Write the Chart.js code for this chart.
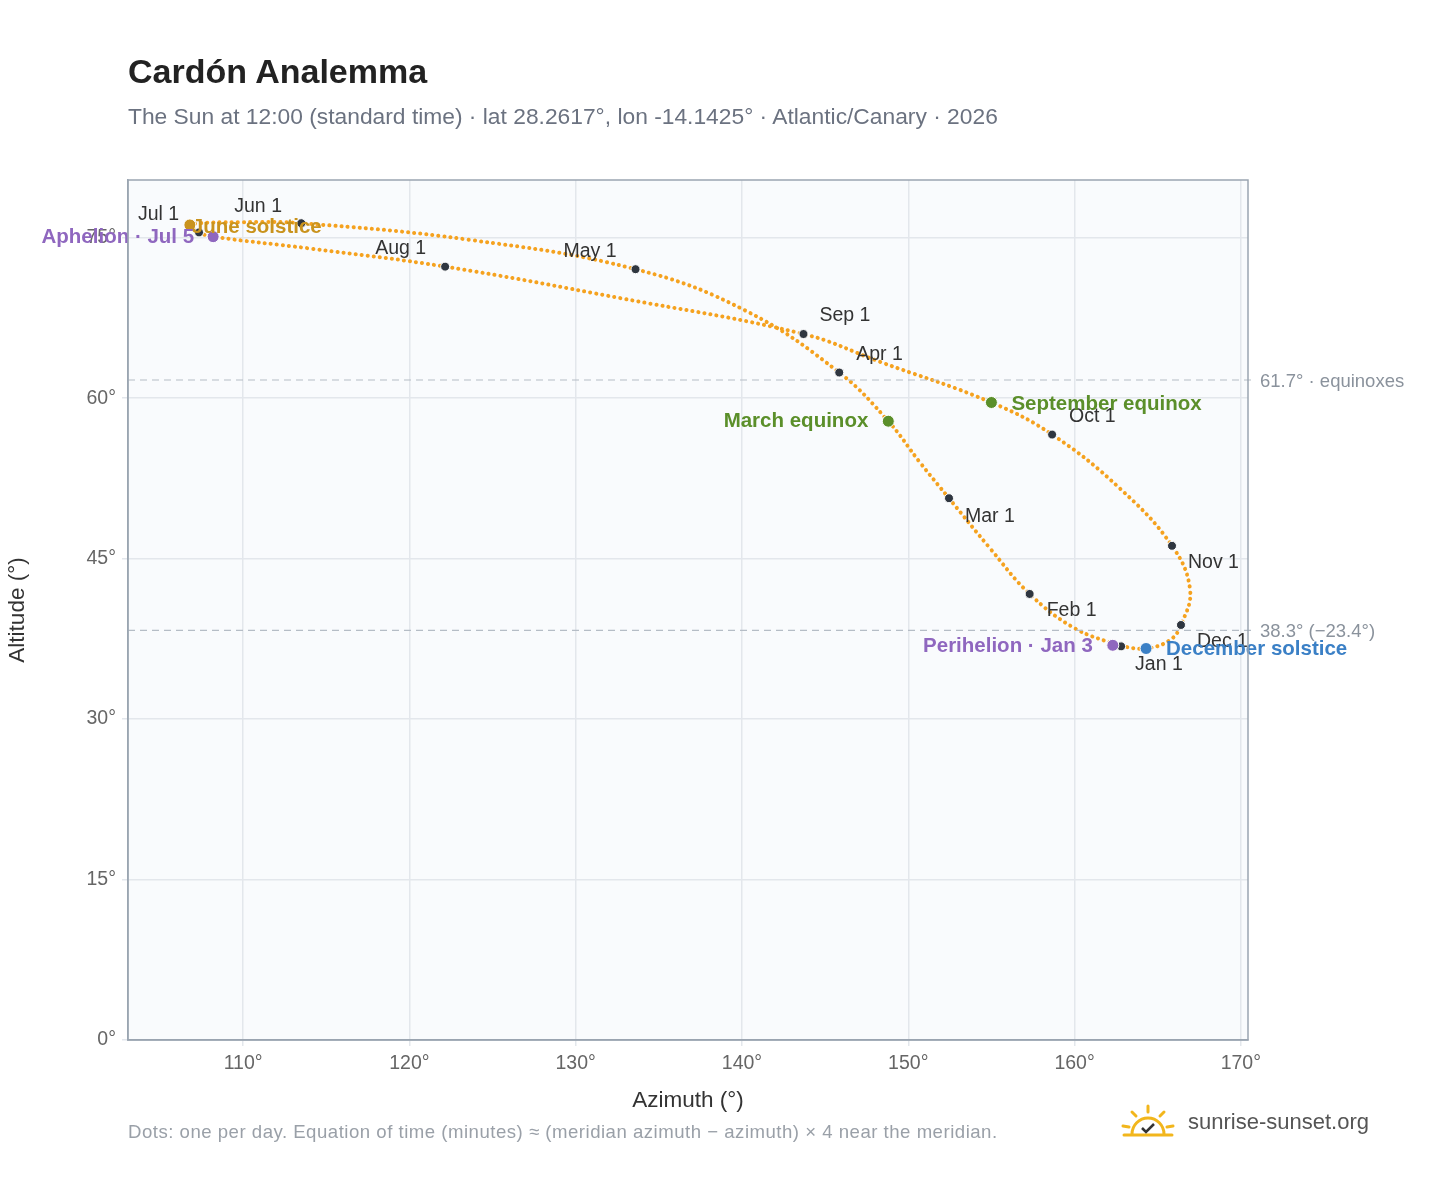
<!DOCTYPE html>
<html>
<head>
<meta charset="utf-8">
<script src="https://cdn.jsdelivr.net/npm/chart.js@4.4.1/dist/chart.umd.min.js"></script>
<style>
  body { margin: 0; background: #fff; font-family: "Liberation Sans", Arial, sans-serif; }
  #wrap { position: relative; width: 1448px; height: 1188px; }
  canvas { position: absolute; left: 0; top: 0; }
  .title { position: absolute; left: 128px; top: 52px; font-size: 34px; font-weight: bold; color: #222; }
  .sub { position: absolute; left: 128px; top: 103px; font-size: 22.8px; color: #6b7280; }
  .foot { position: absolute; left: 128px; top: 1121px; font-size: 18.6px; color: #9aa0a8; letter-spacing: 0.5px; white-space: nowrap; }
  .logo { position: absolute; left: 1120px; top: 1104px; font-size: 22px; color: #555; display: flex; align-items: center; gap: 12px; }
</style>
</head>
<body>
<div id="wrap">
  <canvas id="c" width="1448" height="1188"></canvas>
  <div class="title">Cardón Analemma</div>
  <div class="sub">The Sun at 12:00 (standard time) · lat 28.2617°, lon -14.1425° · Atlantic/Canary · 2026</div>
  <div class="foot">Dots: one per day. Equation of time (minutes) ≈ (meridian azimuth − azimuth) × 4 near the meridian.</div>
  <div class="logo">
    <svg width="56" height="36" viewBox="0 0 56 36">
      <g stroke="#f2b61c" stroke-width="3" stroke-linecap="round" fill="none">
        <path d="M12 30 A16 16 0 0 1 44 30"/>
        <line x1="28" y1="2" x2="28" y2="8"/><line x1="12" y1="8" x2="16" y2="12"/>
        <line x1="44" y1="8" x2="40" y2="12"/><line x1="3" y1="22" x2="9" y2="23"/>
        <line x1="53" y1="22" x2="47" y2="23"/><line x1="4" y1="31" x2="52" y2="31"/>
      </g>
      <path d="M22 24 l4 4 l8 -8" stroke="#333" stroke-width="2.5" fill="none"/>
    </svg>
    <span>sunrise-sunset.org</span>
  </div>
</div>
<script>
// sun path (azimuth °, altitude °), Jan 1 -> Dec 31
const pathAz  = [162.8, 160.0, 157.3, 154.9, 152.45, 150.7, 148.8, 145.85, 140.2, 133.6, 123.65, 113.5, 109.8, 106.8, 107.35, 108.2, 114.0, 122.15, 132.7, 143.7, 148.3, 155.0, 158.65, 162.7, 165.86, 166.95, 166.4, 165.75, 164.3, 162.8];
const pathAlt = [36.8, 38.5, 41.7, 46.0, 50.65, 54.0, 57.85, 62.4, 68.2, 72.06, 74.8, 76.36, 76.45, 76.2, 75.5, 75.1, 74.0, 72.3, 69.35, 66.0, 63.4, 59.6, 56.6, 51.6, 46.2, 42.05, 38.8, 37.4, 36.6, 36.8];

const monthLabels = ['Jan 1','Feb 1','Mar 1','Apr 1','May 1','Jun 1','Jul 1','Aug 1','Sep 1','Oct 1','Nov 1','Dec 1'];
const monthAz  = [162.8, 157.3, 152.45, 145.85, 133.6, 113.5, 107.35, 122.15, 143.7, 158.65, 165.86, 166.4];
const monthAlt = [36.8, 41.7, 50.65, 62.4, 72.06, 76.36, 75.5, 72.3, 66.0, 56.6, 46.2, 38.8];
const monthOff = [[14,18,'left'],[17,17,'left'],[16,18,'left'],[17,-18,'left'],[-72,-18,'left'],[-67,-17,'left'],[-61,-18,'left'],[-70,-18,'left'],[16,-18,'left'],[17,-18,'left'],[16,17,'left'],[16,17,'left']];

const eventLabels = ['March equinox','June solstice','Aphelion · Jul 5','September equinox','December solstice','Perihelion · Jan 3'];
const eventAz  = [148.8, 106.8, 108.2, 155.0, 164.3, 162.3];
const eventAlt = [57.85, 76.2, 75.1, 59.6, 36.6, 36.9];
const eventColors = ['#5b8f2a','#c9931d','#8f67bf','#5b8f2a','#3b80c6','#8f67bf'];
const eventOff = [[-20,0,'right'],[2,2,'left'],[-19,1,'right'],[20,2,'left'],[20,1,'left'],[-20,1,'right']];

const refLines = [61.7, 38.3];
const refText = ['61.7° · equinoxes', '38.3° (−23.4°)'];

const xy = (a, b) => a.map((v, i) => ({ x: v, y: b[i] }));

const labelPlugin = {
  id: 'labels',
  afterDatasetsDraw(chart) {
    const { ctx, chartArea, scales: { x, y } } = chart;
    ctx.save();
    ctx.textBaseline = 'middle';
    refLines.forEach((v, i) => {
      const py = y.getPixelForValue(v);
      ctx.strokeStyle = '#b5bdc6'; ctx.lineWidth = 1.2; ctx.setLineDash([7, 5]);
      ctx.beginPath(); ctx.moveTo(chartArea.left, py); ctx.lineTo(chartArea.right + 6, py); ctx.stroke();
      ctx.setLineDash([]);
      ctx.fillStyle = '#8a929c'; ctx.font = '18.5px "Liberation Sans", Arial'; ctx.textAlign = 'left';
      ctx.fillText(refText[i], chartArea.right + 12, py + 2);
    });
    ctx.font = '19.5px "Liberation Sans", Arial'; ctx.fillStyle = '#333';
    monthLabels.forEach((t, i) => {
      const o = monthOff[i];
      ctx.textAlign = o[2];
      ctx.fillText(t, x.getPixelForValue(monthAz[i]) + o[0], y.getPixelForValue(monthAlt[i]) + o[1]);
    });
    ctx.font = 'bold 20.5px "Liberation Sans", Arial';
    eventLabels.forEach((t, i) => {
      const o = eventOff[i];
      ctx.textAlign = o[2]; ctx.fillStyle = eventColors[i];
      ctx.fillText(t, x.getPixelForValue(eventAz[i]) + o[0], y.getPixelForValue(eventAlt[i]) + o[1]);
    });
    ctx.restore();
  }
};

const bgPlugin = {
  id: 'bg',
  beforeDraw(chart) {
    const { ctx, chartArea: a } = chart;
    ctx.save(); ctx.fillStyle = '#f9fbfd';
    ctx.fillRect(a.left, a.top, a.right - a.left, a.bottom - a.top);
    ctx.restore();
  },
  afterDraw(chart) {
    const { ctx, chartArea: a } = chart;
    ctx.save(); ctx.strokeStyle = '#9aa5b1'; ctx.lineWidth = 1.5;
    ctx.strokeRect(a.left, a.top, a.right - a.left, a.bottom - a.top);
    ctx.restore();
  }
};

new Chart(document.getElementById('c'), {
  type: 'scatter',
  data: {
    datasets: [
      { data: xy(eventAz, eventAlt), pointRadius: 6, pointBackgroundColor: eventColors, pointBorderColor: '#fff', pointBorderWidth: 1, order: 0 },
      { data: xy(monthAz, monthAlt), pointRadius: 4.5, pointBackgroundColor: '#2f3640', pointBorderColor: '#fff', pointBorderWidth: 1, order: 1 },
      { data: xy(pathAz, pathAlt), showLine: true, tension: 0.4, borderColor: '#f5a21f', borderWidth: 4, borderDash: [0.1, 6], borderCapStyle: 'round', pointRadius: 0, order: 2 }
    ]
  },
  options: {
    responsive: false, animation: false,
    layout: { padding: { top: 180, right: 200, bottom: 70, left: 0 } },
    plugins: { legend: { display: false }, tooltip: { enabled: false } },
    scales: {
      x: {
        min: 103.08, max: 170.43,
        afterBuildTicks: s => { s.ticks = [110,120,130,140,150,160,170].map(v => ({ value: v })); },
        afterFit: s => { s.height = 78; },
        ticks: { color: '#666', font: { size: 19.5 }, callback: v => v + '°', padding: 6 },
        grid: { color: '#e3e7ec', lineWidth: 1.5, tickLength: 6 },
        border: { color: '#9aa5b1', width: 1.5 },
        title: { display: true, text: 'Azimuth (°)', color: '#333', font: { size: 22.5 }, padding: { top: 4 } }
      },
      y: {
        min: 0, max: 80.4,
        afterBuildTicks: s => { s.ticks = [0,15,30,45,60,75].map(v => ({ value: v })); },
        afterFit: s => { s.width = 128; },
        ticks: { color: '#666', font: { size: 19.5 }, callback: v => v + '°', padding: 6 },
        grid: { color: '#e3e7ec', lineWidth: 1.5, tickLength: 6 },
        border: { color: '#9aa5b1', width: 1.5 },
        title: { display: true, text: 'Altitude (°)', color: '#333', font: { size: 22.5 }, padding: { bottom: 0 } }
      }
    }
  },
  plugins: [bgPlugin, labelPlugin]
});
</script>
</body>
</html>
